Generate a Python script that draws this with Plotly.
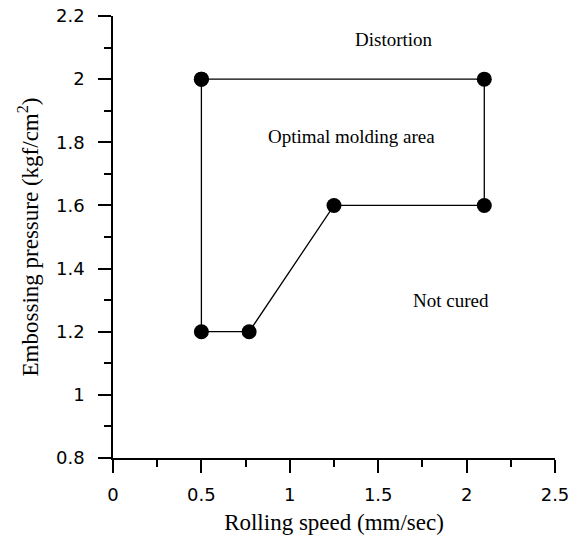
import plotly.graph_objects as go

# Boundary of optimal molding area (closed polygon)
speed = [0.5, 2.1, 2.1, 1.25, 0.77, 0.5, 0.5]
pressure = [2.0, 2.0, 1.6, 1.6, 1.2, 1.2, 2.0]

labels = ["Distortion", "Optimal molding area", "Not cured"]
label_x = [1.59, 1.35, 1.91]
label_y = [2.127, 1.817, 1.30]

fig = go.Figure()
fig.add_trace(go.Scatter(
    x=speed, y=pressure, mode="lines+markers",
    line=dict(color="black", width=1.3),
    marker=dict(color="black", size=15),
    showlegend=False, hoverinfo="skip",
))

for t, x, y in zip(labels, label_x, label_y):
    fig.add_annotation(x=x, y=y, text=t, showarrow=False,
                       font=dict(family="Liberation Serif", size=19, color="black"))

tickfont = dict(family="DejaVu Sans", size=18, color="black")
titlefont = dict(family="Liberation Serif", size=23, color="black")

fig.update_xaxes(
    range=[0, 2.5], tickvals=[0, 0.5, 1, 1.5, 2, 2.5],
    ticktext=["0", "0.5", "1", "1.5", "2", "2.5"],
    showline=True, linecolor="black", linewidth=1.5,
    ticks="outside", ticklen=13, tickwidth=1.5, tickcolor="black",
    minor=dict(ticks="outside", ticklen=7, tickwidth=1.5, tickcolor="black", dtick=0.25),
    showgrid=False, zeroline=False, tickfont=tickfont, ticklabelstandoff=7,
    automargin=False, ticklabeloverflow="allow",
    title=dict(text="Rolling speed (mm/sec)", font=titlefont, standoff=10),
)
fig.update_yaxes(
    range=[0.8, 2.2], tickvals=[0.8, 1, 1.2, 1.4, 1.6, 1.8, 2, 2.2],
    ticktext=["0.8", "1", "1.2", "1.4", "1.6", "1.8", "2", "2.2"],
    showline=True, linecolor="black", linewidth=1.5,
    ticks="outside", ticklen=13, tickwidth=1.5, tickcolor="black",
    minor=dict(ticks="outside", ticklen=7, tickwidth=1.5, tickcolor="black", dtick=0.1),
    showgrid=False, zeroline=False, tickfont=tickfont, ticklabelstandoff=10,
    automargin=False, ticklabeloverflow="allow",
    title=dict(text="Embossing pressure (kgf/cm<sup>2</sup>)", font=titlefont, standoff=11),
)

fig.update_layout(
    width=580, height=543,
    margin=dict(l=113, r=25, t=16, b=85, autoexpand=False),
    plot_bgcolor="white", paper_bgcolor="white",
)

fig.write_html("out.html", config={"displayModeBar": False},
               post_script="document.body.style.margin='0';document.body.style.overflow='hidden';")
